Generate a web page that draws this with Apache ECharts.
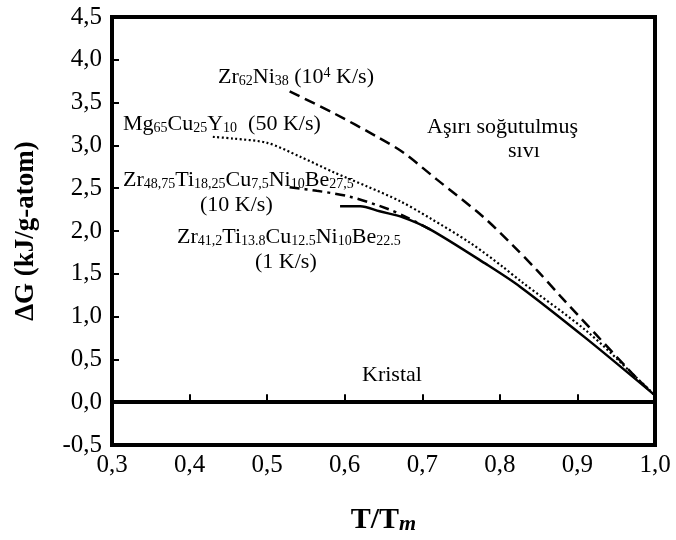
<!DOCTYPE html>
<html>
<head>
<meta charset="utf-8">
<script src="https://cdn.jsdelivr.net/npm/echarts@6/dist/echarts.min.js"></script>
<style>
html, body { margin: 0; padding: 0; background: #fff; }
#chart { width: 676px; height: 540px; }
</style>
</head>
<body>
<div id="chart"></div>
<script>
// T/Tm and deltaG (kJ/g-atom)
const zrNiT = [0.529, 0.585, 0.642, 0.675, 0.719, 0.778, 0.817, 0.848, 0.878, 0.925, 0.964, 0.981, 1.0];
const zrNiG = [3.63, 3.38, 3.10, 2.92, 2.60, 2.17, 1.83, 1.54, 1.24, 0.78, 0.40, 0.24, 0.08];

const mgCuYT = [0.430, 0.456, 0.500, 0.542, 0.585, 0.629, 0.671, 0.710, 0.762, 0.804, 0.826, 0.912, 0.977, 1.0];
const mgCuYG = [3.10, 3.08, 3.03, 2.87, 2.69, 2.52, 2.35, 2.15, 1.86, 1.58, 1.42, 0.83, 0.28, 0.08];

const vit4T = [0.529, 0.564, 0.607, 0.655, 0.680, 0.710];
const vit4G = [2.51, 2.47, 2.40, 2.26, 2.16, 2.02];

const vit1T = [0.594, 0.620, 0.645, 0.675, 0.710, 0.783, 0.826, 0.912, 1.0];
const vit1G = [2.29, 2.29, 2.23, 2.16, 2.02, 1.61, 1.35, 0.74, 0.08];

const xMin = 0.3, xMax = 1.0, xStep = 0.1;
const yMin = -0.5, yMax = 4.5, yStep = 0.5;

const fam = '"Liberation Serif", "Times New Roman", serif';

function pairs(xs, ys) {
  return xs.map(function (x, i) { return [x, ys[i]]; });
}
function comma(v) {
  return v.toFixed(1).replace('.', ',');
}

// n = normal text, s = subscript, p = superscript
const rich = {
  n: { fontSize: 22, fontFamily: fam, fill: '#000', verticalAlign: 'bottom' },
  s: { fontSize: 14, fontFamily: fam, fill: '#000', verticalAlign: 'bottom' },
  p: { fontSize: 14, fontFamily: fam, fill: '#000', verticalAlign: 'top' }
};

function note(x, y, text) {
  return {
    type: 'text',
    x: x,
    y: y,
    silent: true,
    style: { text: text, rich: rich, fill: '#000', align: 'left', verticalAlign: 'top' }
  };
}

let chart = echarts.init(document.getElementById('chart'));

let option = {
  backgroundColor: '#fff',
  animation: false,
  grid: {
    left: 112,
    right: 21,
    top: 17,
    bottom: 93,
    show: true,
    borderColor: '#000',
    borderWidth: 4
  },
  xAxis: {
    type: 'value',
    min: xMin,
    max: xMax,
    interval: xStep,
    name: '{a|T/T}{b|m}',
    nameLocation: 'middle',
    nameGap: 60,
    nameTextStyle: {
      rich: {
        a: { fontSize: 30, fontWeight: 'bold', fontFamily: fam, color: '#000', verticalAlign: 'bottom' },
        b: { fontSize: 22, fontWeight: 'bold', fontStyle: 'italic', fontFamily: fam, color: '#000', verticalAlign: 'bottom' }
      }
    },
    axisLine: { lineStyle: { color: '#000', width: 4 } },
    axisTick: { inside: true, length: 8, lineStyle: { color: '#000', width: 2 } },
    axisLabel: {
      formatter: comma,
      margin: 8,
      fontSize: 25,
      fontFamily: fam,
      color: '#000'
    },
    splitLine: { show: false }
  },
  yAxis: {
    type: 'value',
    min: yMin,
    max: yMax,
    interval: yStep,
    name: 'ΔG (kJ/g-atom)',
    nameLocation: 'middle',
    nameGap: 72,
    nameTextStyle: { fontSize: 27, fontWeight: 'bold', fontFamily: fam, color: '#000' },
    axisLine: { lineStyle: { color: '#000', width: 4 } },
    axisTick: { inside: true, length: 7, lineStyle: { color: '#000', width: 2 } },
    axisLabel: {
      formatter: comma,
      margin: 10,
      fontSize: 25,
      fontFamily: fam,
      color: '#000'
    },
    splitLine: { show: false }
  },
  series: [
    {
      name: 'Zr62Ni38',
      type: 'line',
      data: pairs(zrNiT, zrNiG),
      smooth: 0.3,
      showSymbol: false,
      lineStyle: { color: '#000', width: 2.5, type: [11, 6] }
    },
    {
      name: 'Mg65Cu25Y10',
      type: 'line',
      data: pairs(mgCuYT, mgCuYG),
      smooth: 0.3,
      showSymbol: false,
      lineStyle: { color: '#000', width: 2.2, type: [2, 2.5] }
    },
    {
      name: 'Vit4',
      type: 'line',
      data: pairs(vit4T, vit4G),
      smooth: 0.3,
      showSymbol: false,
      lineStyle: { color: '#000', width: 2.5, type: [10, 5, 3, 5] }
    },
    {
      name: 'Vit1',
      type: 'line',
      data: pairs(vit1T, vit1G),
      smooth: 0.3,
      showSymbol: false,
      lineStyle: { color: '#000', width: 2.5 },
      markLine: {
        silent: true,
        symbol: 'none',
        label: { show: false },
        lineStyle: { color: '#000', width: 2.5, type: 'solid' },
        data: [{ yAxis: 0 }]
      }
    }
  ],
  graphic: [
    note(218, 66, '{n|Zr}{s|62}{n|Ni}{s|38}{n| (10}{p|4}{n| K/s)}'),
    note(123, 113, '{n|Mg}{s|65}{n|Cu}{s|25}{n|Y}{s|10}{n|  (50 K/s)}'),
    note(123, 169, '{n|Zr}{s|48,75}{n|Ti}{s|18,25}{n|Cu}{s|7,5}{n|Ni}{s|10}{n|Be}{s|27,5}'),
    note(200, 194, '{n|(10 K/s)}'),
    note(177, 226, '{n|Zr}{s|41,2}{n|Ti}{s|13.8}{n|Cu}{s|12.5}{n|Ni}{s|10}{n|Be}{s|22.5}'),
    note(255, 251, '{n|(1 K/s)}'),
    note(427, 116, '{n|Aşırı soğutulmuş}'),
    note(508, 140, '{n|sıvı}'),
    note(362, 364, '{n|Kristal}')
  ]
};

chart.setOption(option);
</script>
</body>
</html>
